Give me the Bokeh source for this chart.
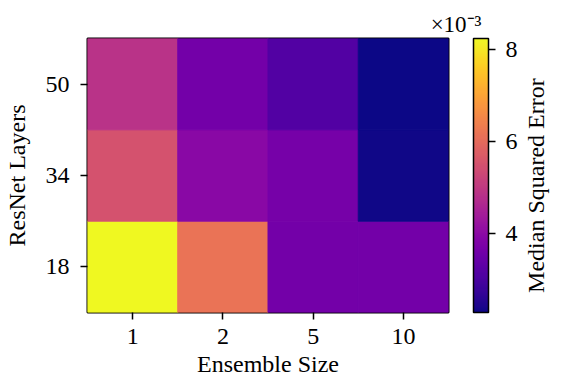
import math
from bokeh.plotting import figure
from bokeh.models import (ColumnDataSource, LinearColorMapper, ColorBar, FixedTicker,
                          CustomJSTickFormatter, FactorRange, CategoricalAxis, Title)
from bokeh.palettes import Plasma256
from bokeh.transform import transform
from bokeh.embed import file_html
from bokeh.resources import INLINE

# ---- data ----
ensemble_sizes = ["1", "2", "5", "10"]
resnet_layers = ["18", "34", "50"]
mse_18 = [8.24e-3, 6.15e-3, 3.60e-3, 3.60e-3]
mse_34 = [5.50e-3, 3.95e-3, 3.65e-3, 2.30e-3]
mse_50 = [4.85e-3, 3.62e-3, 3.12e-3, 2.27e-3]
cbar_ticks = [4e-3, 6e-3, 8e-3]
x_title = "Ensemble Size"
y_title = "ResNet Layers"
cbar_title = "Median Squared Error"
cbar_offset = "\u00d710\u207b\u00b3"

rows = {"18": mse_18, "34": mse_34, "50": mse_50}
xs, ys, vals = [], [], []
for layer in resnet_layers:
    for e, v in zip(ensemble_sizes, rows[layer]):
        xs.append(e)
        ys.append(layer)
        vals.append(v)
src = ColumnDataSource(dict(x=xs, y=ys, v=vals))

FONT = "Liberation Serif"
FS = "24px"
W, H = 565, 382
FL, FT, FW, FH = 86, 38, 364, 274

mapper = LinearColorMapper(palette=Plasma256, low=min(vals), high=max(vals))

p = figure(width=W, height=H,
           x_range=FactorRange(factors=ensemble_sizes),
           y_range=FactorRange(factors=resnet_layers),
           min_border_left=FL, min_border_top=FT,
           min_border_right=W - FL - FW, min_border_bottom=H - FT - FH,
           toolbar_location=None, output_backend="svg")

p.rect(x="x", y="y", width=1, height=1, source=src,
       fill_color=transform("v", mapper), line_color=transform("v", mapper),
       line_width=1)

p.grid.visible = False
p.outline_line_color = "black"
p.outline_line_width = 2
p.background_fill_color = "white"
p.border_fill_color = "white"

for ax in (p.xaxis[0], p.yaxis[0]):
    ax.axis_line_color = None
    ax.major_tick_out = 7
    ax.major_tick_in = 0
    ax.major_tick_line_width = 1.5
    ax.major_tick_line_color = "black"
    ax.minor_tick_line_color = None
    ax.major_label_text_font = FONT
    ax.major_label_text_font_size = FS
    ax.major_label_text_color = "black"
    ax.axis_label_text_font = FONT
    ax.axis_label_text_font_size = FS
    ax.axis_label_text_font_style = "normal"
    ax.axis_label_text_color = "black"
p.xaxis[0].axis_label = x_title
p.yaxis[0].axis_label = y_title
p.xaxis[0].major_label_standoff = 9
p.xaxis[0].axis_label_standoff = 4
p.yaxis[0].major_label_standoff = 11
p.yaxis[0].axis_label_standoff = 13

cb = ColorBar(color_mapper=mapper, location=(FW + 22, 0), width=15, height=FH,
              padding=0, margin=0,
              ticker=FixedTicker(ticks=cbar_ticks),
              formatter=CustomJSTickFormatter(code="return (tick*1000).toFixed(0);"),
              major_tick_out=7, major_tick_in=0,
              major_tick_line_color="black", major_tick_line_width=1.5,
              minor_tick_line_color=None,
              bar_line_color="black", bar_line_width=1.5,
              label_standoff=10,
              major_label_text_font=FONT, major_label_text_font_size=FS,
              major_label_text_color="black",
              background_fill_color=None, border_line_color=None)
p.add_layout(cb, "center")

# colorbar title: a rotated label on a helper categorical axis at the right
slots = [str(i) for i in range(7)]
p.extra_y_ranges = {"cbt": FactorRange(factors=slots)}
helper = CategoricalAxis(y_range_name="cbt",
                         formatter=CustomJSTickFormatter(
                             args=dict(t=cbar_title),
                             code="return tick == '0' ? t : '';"),
                         major_label_orientation=math.pi / 2,
                         major_label_standoff=88,
                         major_label_text_font=FONT,
                         major_label_text_font_size=FS,
                         major_label_text_color="black",
                         major_tick_out=0, major_tick_in=0,
                         major_tick_line_color=None, minor_tick_line_color=None,
                         axis_line_color=None)
p.add_layout(helper, "right")

# offset text of the colorbar
p.add_layout(Title(text=cbar_offset, align="right", offset=-33, standoff=3,
                   text_font=FONT, text_font_size="23px", text_font_style="normal",
                   text_color="black"), "above")

open("out.html", "w").write(file_html(p, INLINE))
